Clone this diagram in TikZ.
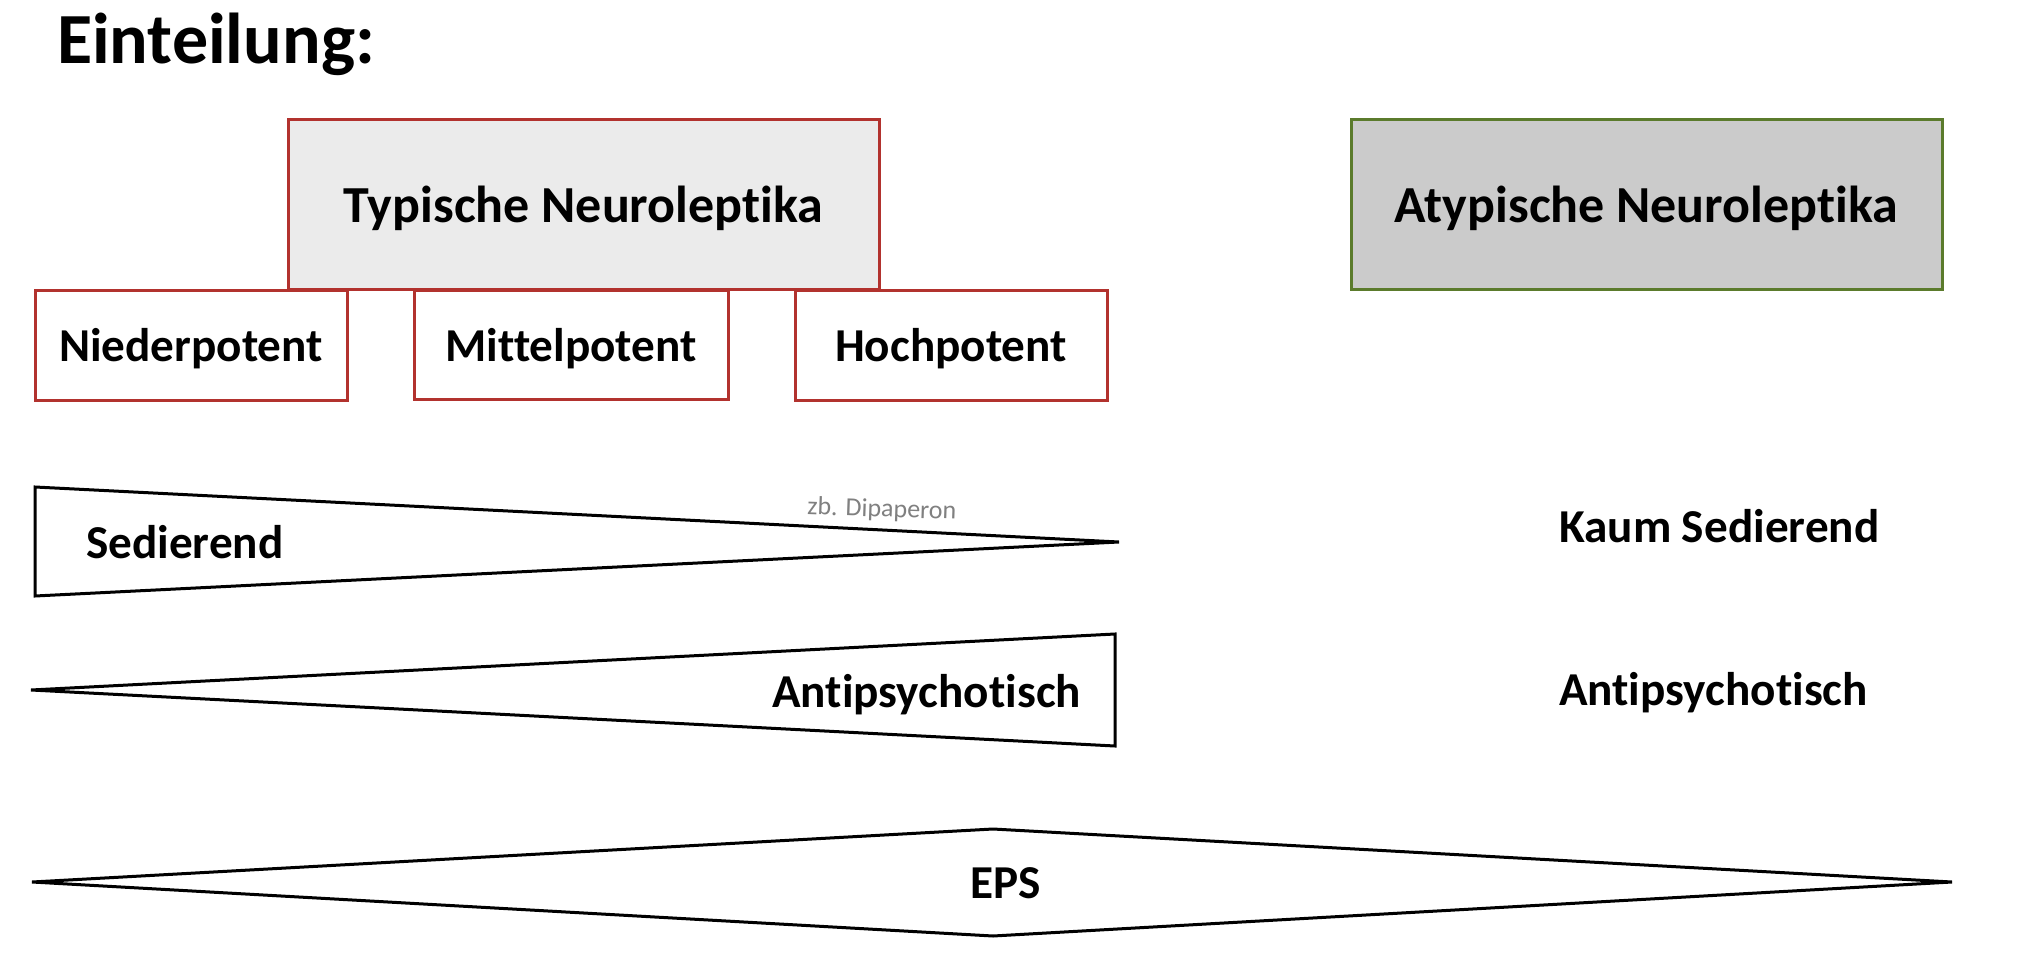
\documentclass[tikz,border=0pt]{standalone}
\usepackage{fontspec}
\setmainfont{Carlito}[Ligatures=NoCommon]
\definecolor{boxred}{HTML}{B2322E}
\definecolor{boxgreen}{HTML}{5B7B2C}
\definecolor{typfill}{HTML}{EBEBEB}
\definecolor{atypfill}{HTML}{CBCBCB}
\begin{document}
\begin{tikzpicture}[x=0.5pt,y=-0.5pt,
		big/.style={font=\bfseries\fontsize{26}{30}\selectfont,yshift=-2pt},
		mid/.style={font=\bfseries\fontsize{23.6}{27}\selectfont},
		redbox/.style={line width=1.5pt,draw=boxred},
		wedge/.style={line width=1.5pt,line join=miter}]
	\useasboundingbox (0,0) rectangle (2023,979);
	\node[anchor=base west,font=\bfseries\fontsize{36}{42}\selectfont] (title) at (50,64) {Einteilung:};
	\draw[redbox,fill=typfill] (288,120) rectangle (879,289) node[midway,big] (typ) {Typische Neuroleptika};
	\draw[redbox] (35,290) rectangle (347,400) node[midway,mid,yshift=-2pt] (nieder) {Niederpotent};
	\draw[redbox] (414,290) rectangle (728,399) node[midway,mid,yshift=-2pt] (mittel) {Mittelpotent};
	\draw[redbox] (795,290) rectangle (1107,400) node[midway,mid,yshift=-2pt] (hoch) {Hochpotent};
	\draw[line width=1.5pt,draw=boxgreen,fill=atypfill] (1351,120) rectangle (1942,289) node[midway,big] (atyp) {Atypische Neuroleptika};
	% Keile
	\draw[wedge] (35,487) -- (1119,542) -- (35,596) -- cycle;
	\node[anchor=base west,mid] (sed) at (79,558) {Sedierend};
	\node[anchor=base west,rotate=-2,text=gray,font=\fontsize{13}{15}\selectfont] (dipa) at (800,514) {zb. Dipaperon};
	\draw[wedge] (31,690) -- (1115,634) -- (1115,746) -- cycle;
	\node[anchor=base east,mid] (anti) at (1088,707) {Antipsychotisch};
	\node[anchor=base west,mid] (kaum) at (1552,542) {Kaum Sedierend};
	\node[anchor=base west,mid] (antiatyp) at (1552,705) {Antipsychotisch};
	\draw[wedge] (32,882) -- (993,829) -- (1952,882) -- (993,936) -- cycle;
	\node[anchor=base,mid] (eps) at (1006,898) {EPS};
\end{tikzpicture}
\end{document}
